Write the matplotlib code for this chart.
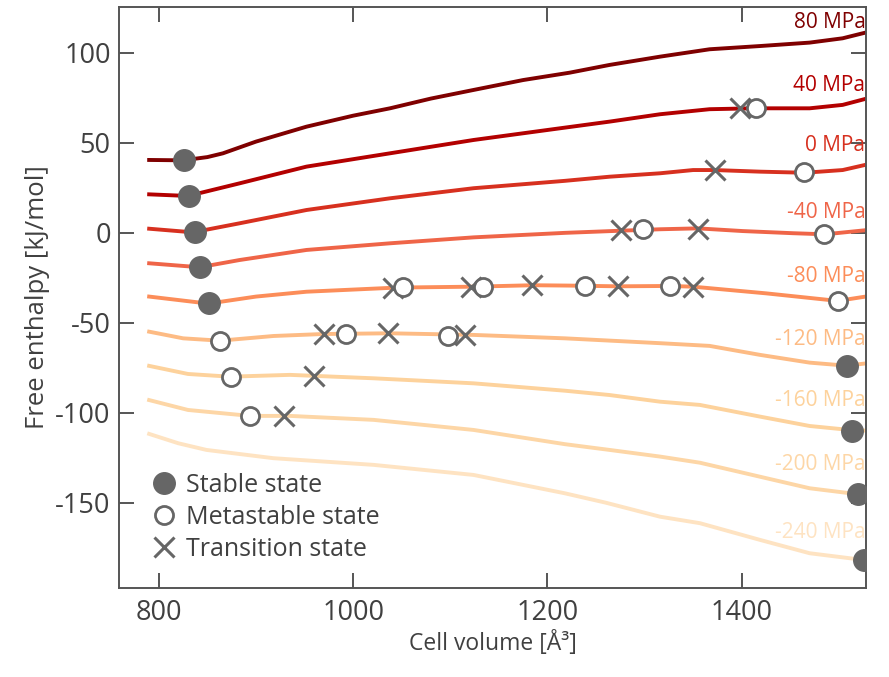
import numpy as np
import matplotlib
matplotlib.use('Agg')
import matplotlib.pyplot as plt

plt.rcParams['font.family'] = ['Open Sans', 'DejaVu Sans']
plt.rcParams['axes.unicode_minus'] = False

# pressures and curve colours (dark -> light)
pressures = [80, 40, 0, -40, -80, -120, -160, -200, -240]
colors = ['#7f0000', '#b30000', '#d7301f', '#ef6548', '#fc8d59',
          '#fdbb84', '#fdd29c', '#fdd6a6', '#fee3c2']

# free enthalpy curves: (cell volume, kJ/mol)
v80 = [790, 825, 850, 866, 900, 952, 1000, 1038, 1080, 1124, 1175, 1223, 1264, 1316, 1367, 1419, 1470, 1504, 1530]
g80 = [40.4, 40.2, 42.0, 44.1, 50.6, 58.9, 65.0, 69.1, 74.5, 79.3, 84.8, 88.9, 93.2, 97.8, 101.9, 103.7, 105.6, 108.0, 111.5]

v40 = [790, 830, 883, 952, 1038, 1124, 1213, 1264, 1316, 1367, 1412, 1470, 1504, 1530]
g40 = [21.3, 20.4, 27.4, 36.7, 44.1, 51.5, 58.0, 61.7, 65.8, 68.6, 69.1, 69.1, 71.0, 74.7]

v0 = [790, 835, 883, 952, 1038, 1124, 1218, 1264, 1316, 1350, 1372, 1419, 1465, 1504, 1530]
g0 = [2.2, 0.2, 5.2, 12.6, 19.1, 24.7, 28.8, 31.1, 33.0, 34.8, 34.8, 33.9, 33.3, 34.8, 38.0]

vm40 = [790, 842, 883, 952, 1038, 1124, 1218, 1276, 1316, 1355, 1401, 1453, 1486, 1530]
gm40 = [-17.0, -19.2, -15.2, -9.6, -5.9, -2.6, -0.1, 1.1, 1.9, 2.4, 0.9, -0.3, -0.9, 1.5]

vm80 = [790, 851, 900, 952, 1045, 1124, 1185, 1223, 1273, 1326, 1350, 1425, 1499, 1530]
gm80 = [-35.5, -39.4, -35.5, -32.8, -30.5, -30.0, -29.2, -29.4, -29.8, -29.6, -30.0, -33.7, -37.9, -35.3]

vm120 = [790, 825, 863, 918, 969, 1038, 1124, 1218, 1316, 1367, 1419, 1470, 1508, 1530]
gm120 = [-55.0, -58.7, -60.0, -57.4, -56.3, -55.9, -56.8, -58.7, -61.4, -62.9, -67.9, -72.2, -73.9, -72.5]

vm160 = [790, 830, 873, 935, 1021, 1124, 1218, 1264, 1316, 1357, 1419, 1470, 1515, 1530]
gm160 = [-74.0, -78.5, -80.0, -79.0, -80.9, -83.7, -87.8, -90.2, -93.9, -95.7, -102.2, -107.4, -109.8, -110.0]

vm200 = [790, 830, 894, 935, 1021, 1124, 1218, 1264, 1316, 1357, 1419, 1470, 1518, 1530]
gm200 = [-93.0, -98.5, -101.8, -101.8, -104.0, -109.6, -117.5, -120.7, -124.4, -127.8, -135.6, -142.0, -145.2, -145.4]

vm240 = [790, 820, 849, 918, 1021, 1124, 1218, 1260, 1316, 1357, 1419, 1470, 1525, 1530]
gm240 = [-111.8, -117.0, -120.7, -125.3, -129.0, -134.6, -144.8, -150.0, -157.8, -161.4, -170.7, -178.1, -181.8, -182.0]

volumes = [v80, v40, v0, vm40, vm80, vm120, vm160, vm200, vm240]
enthalpies = [g80, g40, g0, gm40, gm80, gm120, gm160, gm200, gm240]

# stationary points
stable_v = [826, 831, 837, 842, 852, 1508, 1514, 1520, 1526]
stable_g = [40.4, 20.4, 0.4, -19.0, -38.9, -73.9, -110.0, -145.2, -182.0]

meta_v = [1414.5, 1464, 1298.5, 1484.5, 1051.5, 1133.8, 1238.5, 1326, 1499, 862.8, 992.5, 1097.8, 873.8, 893.8]
meta_g = [69.0, 33.6, 1.9, -0.9, -30.4, -30.0, -29.6, -29.6, -37.9, -60.0, -56.4, -57.4, -80.2, -101.8]

trans_v = [1398.8, 1373, 1276, 1355.5, 1041, 1121, 1184, 1272.5, 1350, 969.8, 1036, 1115, 959.9, 928.7]
trans_g = [69.0, 35.0, 1.3, 2.2, -30.6, -30.0, -29.3, -29.8, -30.0, -56.3, -55.9, -56.8, -79.4, -101.8]

label_y = [116.9, 81.7, 48.3, 11.3, -24.4, -59.6, -93.3, -129.0, -166.4]

fig = plt.figure(figsize=(8.89, 6.77), dpi=100)
ax = fig.add_axes([0.1339, 0.1315, 0.8402, 0.8582])

for v, g, c, p, ly in zip(volumes, enthalpies, colors, pressures, label_y):
    ax.plot(v, g, color=c, lw=2.8, solid_joinstyle='round', zorder=2)
    ax.text(1527.5, ly, '%d MPa' % p, color=c, fontsize=15, ha='right', va='center')

mk = '#666666'
ax.plot(stable_v, stable_g, 'o', ms=15.5, color=mk, mec=mk, ls='none', zorder=4, label='Stable state')
ax.plot(meta_v, meta_g, 'o', ms=13, mfc='white', mec=mk, mew=2, ls='none', zorder=4, label='Metastable state')
ax.plot(trans_v, trans_g, 'x', ms=15, mec=mk, mew=2.2, ls='none', zorder=3, label='Transition state')

ax.set_xlim(759, 1528)
ax.set_ylim(-197.4, 125.4)
ax.set_xticks([800, 1000, 1200, 1400])
ax.set_yticks([100, 50, 0, -50, -100, -150])

for s in ax.spines.values():
    s.set_color('#555555')
    s.set_linewidth(1.4)
ax.tick_params(direction='in', length=11, width=1.4, color='#555555',
               top=True, right=True, labelsize=19.5, labelcolor='#404040')
ax.tick_params(axis='y', pad=6)
ax.tick_params(axis='x', pad=8)

ax.set_xlabel('Cell volume [Å³]', fontsize=16.5, color='#404040', labelpad=3)
ax.set_ylabel('Free enthalpy [kJ/mol]', fontsize=18.5, color='#404040', labelpad=4)

leg = ax.legend(loc='upper left', bbox_to_anchor=(0.030, 0.215), frameon=False,
                fontsize=18, handlelength=1.0, handletextpad=0.4, labelspacing=0.28,
                borderaxespad=0.0)
for t in leg.get_texts():
    t.set_color('#404040')

fig.savefig('out.png', dpi=100)
